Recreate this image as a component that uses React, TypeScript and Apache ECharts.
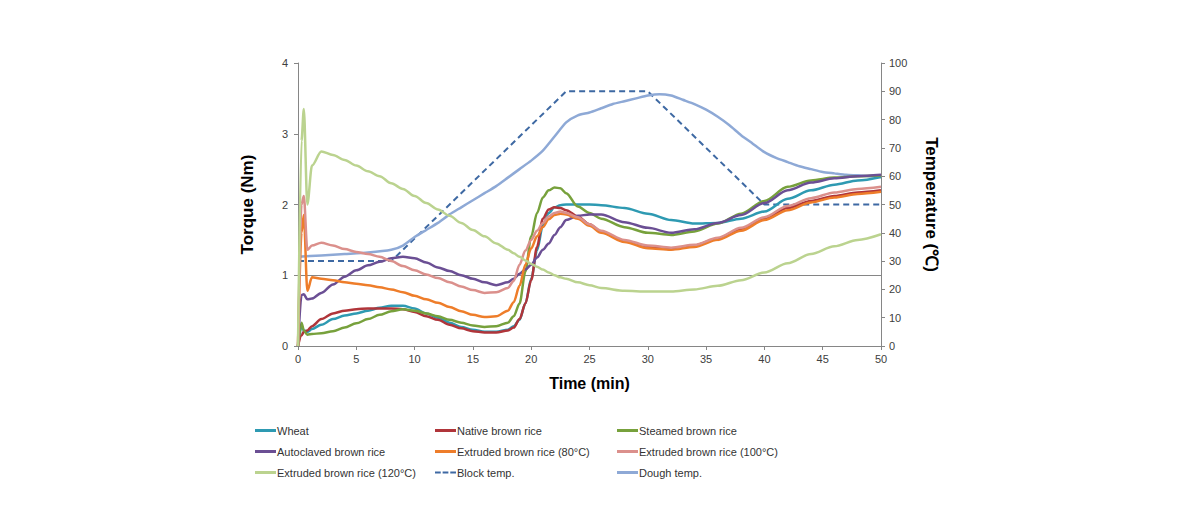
import React, { useEffect, useRef } from "react";
import * as echarts from "echarts";

const times = [0, 0.3, 0.5, 0.8, 1.2, 2, 3, 4, 5, 6, 7, 8, 9, 10, 11, 12, 13, 14, 15, 16, 17, 18, 18.5, 19, 19.5, 20, 20.5, 21, 21.5, 22, 22.5, 23, 24, 25, 26, 28, 30, 32, 34, 36, 38, 40, 42, 44, 46, 48, 50];

const wheat = [0, 0.28, 0.22, 0.2, 0.24, 0.3, 0.38, 0.43, 0.46, 0.5, 0.54, 0.57, 0.57, 0.53, 0.46, 0.4, 0.33, 0.27, 0.23, 0.2, 0.2, 0.23, 0.28, 0.37, 0.6, 0.95, 1.35, 1.7, 1.88, 1.96, 1.99, 2.0, 2.0, 2.0, 1.99, 1.95, 1.87, 1.78, 1.73, 1.74, 1.8, 1.9, 2.08, 2.2, 2.28, 2.34, 2.39];
const nativeRice = [0, 0.15, 0.2, 0.22, 0.28, 0.38, 0.46, 0.5, 0.52, 0.53, 0.53, 0.53, 0.52, 0.48, 0.42, 0.37, 0.3, 0.25, 0.21, 0.19, 0.19, 0.22, 0.26, 0.38, 0.6, 0.93, 1.4, 1.8, 1.93, 1.96, 1.95, 1.92, 1.83, 1.72, 1.62, 1.48, 1.4, 1.37, 1.42, 1.52, 1.65, 1.8, 1.95, 2.05, 2.12, 2.17, 2.2];
const steamed = [0, 0.33, 0.22, 0.16, 0.17, 0.18, 0.21, 0.26, 0.32, 0.38, 0.44, 0.49, 0.52, 0.5, 0.46, 0.42, 0.37, 0.33, 0.29, 0.27, 0.28, 0.33, 0.42, 0.6, 1.05, 1.55, 1.88, 2.1, 2.2, 2.24, 2.23, 2.16, 1.97, 1.88, 1.8, 1.68, 1.6, 1.57, 1.62, 1.73, 1.87, 2.05, 2.25, 2.34, 2.38, 2.4, 2.41];
const autoclaved = [0, 0.72, 0.73, 0.66, 0.67, 0.75, 0.87, 0.98, 1.07, 1.14, 1.19, 1.24, 1.26, 1.24, 1.18, 1.11, 1.06, 1.0, 0.95, 0.9, 0.86, 0.9, 0.95, 1.02, 1.08, 1.15, 1.25, 1.36, 1.45, 1.57, 1.68, 1.78, 1.84, 1.86, 1.86, 1.75, 1.67, 1.6, 1.65, 1.74, 1.85, 2.02, 2.2, 2.31, 2.37, 2.4, 2.42];
const extruded80 = [0, 1.6, 1.85, 0.78, 0.97, 0.95, 0.93, 0.9, 0.88, 0.86, 0.83, 0.8, 0.76, 0.71, 0.66, 0.61, 0.55, 0.49, 0.44, 0.41, 0.42, 0.5, 0.62, 0.85, 1.15, 1.38, 1.55, 1.68, 1.79, 1.85, 1.87, 1.86, 1.8, 1.7, 1.6, 1.47, 1.38, 1.36, 1.4, 1.5, 1.63, 1.78, 1.92, 2.03, 2.1, 2.15, 2.18];
const extruded100 = [0, 2.0, 2.12, 1.36, 1.42, 1.46, 1.42, 1.37, 1.33, 1.3, 1.26, 1.2, 1.13, 1.07, 1.01, 0.96, 0.9, 0.84, 0.79, 0.75, 0.76, 0.82, 0.92, 1.15, 1.35, 1.5, 1.63, 1.74, 1.83, 1.88, 1.9, 1.88, 1.82, 1.72, 1.63, 1.5, 1.42, 1.39, 1.43, 1.53, 1.67, 1.82, 1.98, 2.09, 2.17, 2.22, 2.25];
const extruded120 = [0, 2.9, 3.35, 2.0, 2.55, 2.75, 2.7, 2.63, 2.55, 2.47, 2.4, 2.3, 2.22, 2.12, 2.02, 1.93, 1.84, 1.74, 1.64, 1.55, 1.45, 1.36, 1.31, 1.26, 1.21, 1.16, 1.12, 1.08, 1.04, 1.0, 0.97, 0.95, 0.9, 0.86, 0.82, 0.78, 0.77, 0.77, 0.8, 0.85, 0.93, 1.04, 1.17, 1.3, 1.41, 1.5, 1.58];

const blockTimes = [0, 8, 23, 30, 40, 50];
const blockTemp = [30, 30, 90, 90, 50, 50];

const doughTimes = [0, 2, 4, 6, 8, 9, 10, 11, 12, 13, 14, 15, 16, 17, 18, 19, 20, 21, 22, 23, 24, 25, 26, 27, 28, 29, 30, 31, 32, 33, 34, 35, 36, 37, 38, 39, 40, 41, 42, 43, 44, 45, 46, 47, 48, 49, 50];
const doughTemp = [31.5, 32, 32.5, 33, 34, 35.5, 38.5, 41, 43.5, 46.5, 49, 51.5, 54, 56.5, 59.5, 62.5, 65.5, 69, 74, 79, 81.5, 82.5, 84, 85.5, 86.5, 87.5, 88.5, 89, 88.5, 87, 85.5, 83.5, 81, 78, 74.5, 71.5, 68.5, 66.5, 65, 63.5, 62.5, 61.5, 61, 60.5, 60.3, 60, 59.7];

const torqueTicks = ["0", "1", "2", "3", "4"];
const tempTicks = ["0", "10", "20", "30", "40", "50", "60", "70", "80", "90", "100"];
const timeTicks = ["0", "5", "10", "15", "20", "25", "30", "35", "40", "45", "50"];

const names = {
  wheat: "Wheat",
  nativeRice: "Native brown rice",
  steamed: "Steamed brown rice",
  autoclaved: "Autoclaved brown rice",
  ext80: "Extruded brown rice (80°C)",
  ext100: "Extruded brown rice (100°C)",
  ext120: "Extruded brown rice (120°C)",
  block: "Block temp.",
  dough: "Dough temp.",
};

const pair = (xs: number[], ys: number[]) => xs.map((x, i) => [x, ys[i]]);

const FONT = "'Liberation Sans', Arial, sans-serif";
const LINE_ICON = "rect";
const DASH_ICON = "path://M0,0h6v2h-6zM8,0h6v2h-6zM16,0h6v2h-6z";

export default function App() {
  const ref = useRef<HTMLDivElement>(null);
  useEffect(() => {
    if (!ref.current) return;
    const chart = echarts.init(ref.current, undefined, { renderer: "svg" });
    const torqueLine = (name: string, data: number[], color: string, extra: any = {}) => ({
      name,
      type: "line",
      yAxisIndex: 0,
      data: pair(times, data),
      symbol: "none",
      smooth: 0.3,
      smoothMonotone: "x",
      lineStyle: { color, width: 2.5 },
      itemStyle: { color },
      z: 3,
      ...extra,
    });
    const legendBase = {
      orient: "vertical",
      top: 420,
      itemWidth: 21,
      itemHeight: 3,
      itemGap: 10,
      icon: LINE_ICON,
      textStyle: { fontFamily: FONT, fontSize: 11, color: "#333333", padding: [0, 0, 0, -4] },
    };
    const axisLabelStyle = { fontFamily: FONT, fontSize: 11, color: "#404040" };
    const axisLine = { show: true, lineStyle: { color: "#868686", width: 1 } };
    chart.setOption({
      animation: false,
      backgroundColor: "#ffffff",
      grid: { left: 298, right: 309, top: 63, bottom: 185, containLabel: false },
      legend: [
        { ...legendBase, left: 250, data: [names.wheat, names.autoclaved, names.ext120] },
        { ...legendBase, left: 430, data: [names.nativeRice, names.ext80, { name: names.block, icon: DASH_ICON }] },
        { ...legendBase, left: 612, data: [names.steamed, names.ext100, names.dough] },
      ],
      xAxis: {
        type: "value",
        min: 0,
        max: 50,
        interval: 5,
        name: "Time (min)",
        nameLocation: "middle",
        nameGap: 29,
        nameTextStyle: { fontFamily: FONT, fontSize: 16, fontWeight: "bold", color: "#000" },
        axisLine,
        axisTick: { show: true, length: 4, lineStyle: { color: "#868686" } },
        splitLine: { show: false },
        axisLabel: {
          ...axisLabelStyle,
          margin: 7,
          formatter: (v: number) => timeTicks[Math.round(v / 5)] ?? "",
        },
      },
      yAxis: [
        {
          type: "value",
          min: 0,
          max: 4,
          interval: 1,
          position: "left",
          name: "Torque (Nm)",
          nameLocation: "middle",
          nameGap: 42,
          nameRotate: 90,
          nameTextStyle: { fontFamily: FONT, fontSize: 17, fontWeight: "bold", color: "#000" },
          axisLine,
          axisTick: { show: true, length: 4, lineStyle: { color: "#868686" } },
          splitLine: { show: false },
          axisLabel: {
            ...axisLabelStyle,
            margin: 10,
            formatter: (v: number) => torqueTicks[Math.round(v)] ?? "",
          },
        },
        {
          type: "value",
          min: 0,
          max: 100,
          interval: 10,
          position: "right",
          name: "Temperature (℃)",
          nameLocation: "middle",
          nameGap: 42,
          nameRotate: -90,
          nameTextStyle: { fontFamily: FONT, fontSize: 17, fontWeight: "bold", color: "#000" },
          axisLine: { show: true, lineStyle: { color: "#868686", width: 1 } },
          axisTick: { show: true, length: 4, lineStyle: { color: "#868686" } },
          splitLine: { show: false },
          axisLabel: {
            fontFamily: FONT,
            fontSize: 11,
            color: "#404040",
            margin: 8,
            formatter: (v: number) => tempTicks[Math.round(v / 10)] ?? "",
          },
        },
      ],
      series: [
        torqueLine(names.wheat, wheat, "#2E9AB2", {
          markLine: {
            silent: true,
            symbol: "none",
            label: { show: false },
            lineStyle: { color: "#868686", width: 1, type: "solid" },
            data: [{ yAxis: 1 }],
            z: 1,
          },
        }),
        torqueLine(names.nativeRice, nativeRice, "#B0353A"),
        torqueLine(names.steamed, steamed, "#77A13C"),
        torqueLine(names.autoclaved, autoclaved, "#6B4F94"),
        torqueLine(names.ext80, extruded80, "#EE7D2A"),
        torqueLine(names.ext100, extruded100, "#DB908C"),
        torqueLine(names.ext120, extruded120, "#BBD38F"),
        {
          name: names.block,
          type: "line",
          yAxisIndex: 1,
          data: pair(blockTimes, blockTemp),
          symbol: "none",
          lineStyle: { color: "#3E69A3", width: 2, type: [6, 4] },
          itemStyle: { color: "#3E69A3" },
          z: 2,
        },
        {
          name: names.dough,
          type: "line",
          yAxisIndex: 1,
          data: pair(doughTimes, doughTemp),
          symbol: "none",
          smooth: 0.2,
          lineStyle: { color: "#8EA9D6", width: 2.5 },
          itemStyle: { color: "#8EA9D6" },
          z: 2,
        },
      ],
    });
    return () => chart.dispose();
  }, []);
  return <div ref={ref} style={{ width: 1190, height: 531, position: "absolute", left: 0, top: 0 }} />;
}
